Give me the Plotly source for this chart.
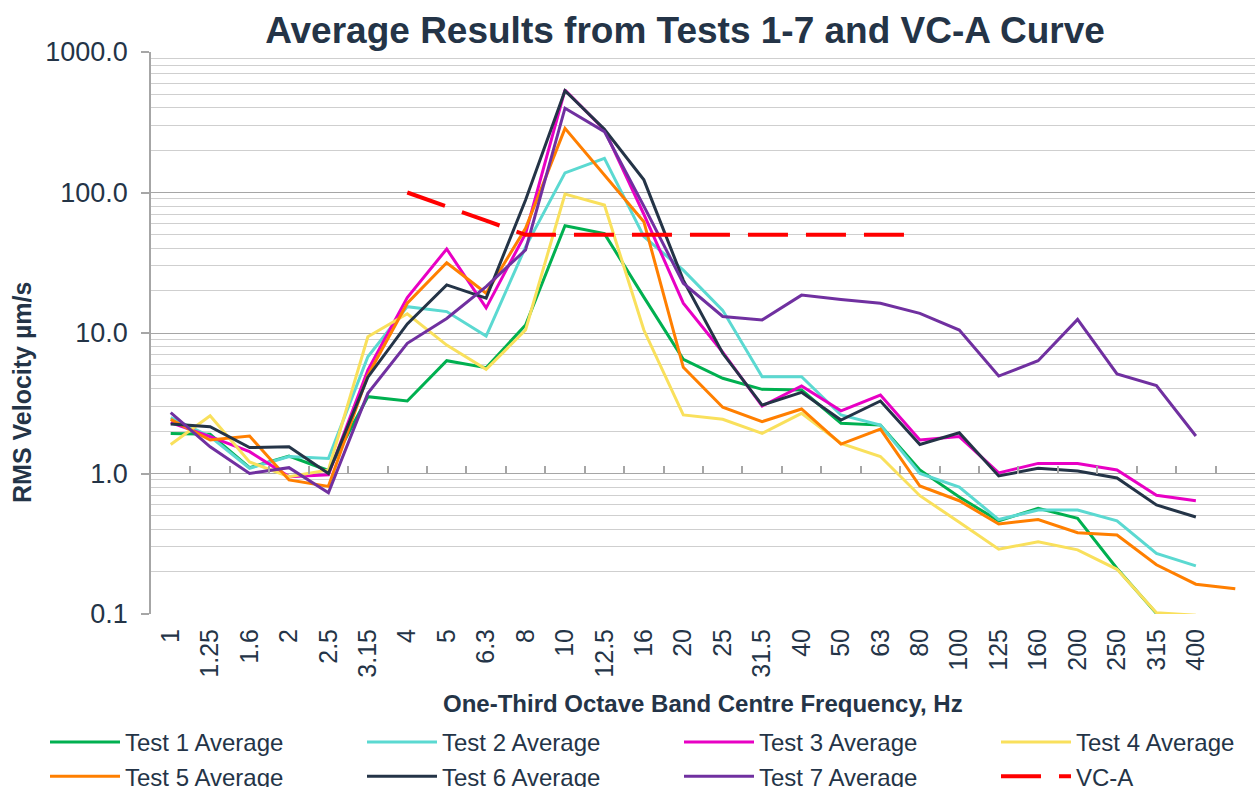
import plotly.graph_objects as go

# One-third octave band centre frequencies (last band unlabelled in the source)
FREQ_LABELS = ["1", "1.25", "1.6", "2", "2.5", "3.15", "4", "5", "6.3", "8", "10",
               "12.5", "16", "20", "25", "31.5", "40", "50", "63", "80", "100",
               "125", "160", "200", "250", "315", "400", ""]

TEST1 = [1.93, 1.9, 1.1, 1.33, 1.05, 3.52, 3.28, 6.35, 5.66, 11.4, 58, 51, 18.0,
         6.5, 4.76, 3.97, 3.93, 2.28, 2.21, 1.06, 0.68, 0.46, 0.565, 0.48, 0.211,
         0.101, 0.095, None]
TEST2 = [2.5, 1.83, 1.09, 1.32, 1.28, 6.78, 15.4, 14.2, 9.5, 41, 138, 175, 48.5,
         28, 14.5, 4.89, 4.89, 2.61, 2.21, 1.0, 0.80, 0.47, 0.55, 0.55, 0.46,
         0.27, 0.22, None]
TEST3 = [2.3, 1.83, 1.43, 0.95, 0.98, 5.45, 17.9, 39.6, 15.1, 51, 537, 279, 70,
         16.3, 7.3, 3.02, 4.2, 2.79, 3.62, 1.73, 1.83, 1.01, 1.18, 1.18, 1.06,
         0.70, 0.64, None]
TEST4 = [1.61, 2.58, 1.21, 0.95, 1.06, 9.4, 13.7, 8.2, 5.52, 10.5, 97.6, 81.5, 10.5,
         2.61, 2.43, 1.93, 2.68, 1.64, 1.32, 0.695, 0.45, 0.289, 0.327, 0.286, 0.208,
         0.102, 0.098, None]
TEST5 = [2.43, 1.73, 1.85, 0.90, 0.81, 5.0, 16.3, 31.6, 19.2, 55.6, 286, 133, 62,
         5.7, 2.96, 2.34, 2.88, 1.62, 2.07, 0.815, 0.64, 0.437, 0.47, 0.379, 0.365,
         0.224, 0.163, 0.151]
TEST6 = [2.25, 2.15, 1.53, 1.55, 1.0, 4.85, 11.6, 22, 17.7, 88.5, 531, 282, 123,
         23.8, 7.17, 3.07, 3.78, 2.40, 3.28, 1.61, 1.95, 0.96, 1.09, 1.04, 0.93,
         0.597, 0.49, None]
TEST7 = [2.71, 1.55, 1.0, 1.1, 0.73, 3.72, 8.45, 12.7, 21.4, 39, 398, 271, 80,
         22.6, 13.1, 12.4, 18.6, 17.3, 16.3, 13.8, 10.5, 4.94, 6.35, 12.5, 5.11,
         4.22, 1.85, None]
VCA = [None, None, None, None, None, None, 100, 80, 63, 50, 50, 50, 50,
       50, 50, 50, 50, 50, 50, 50, None, None, None, None, None,
       None, None, None]

# (name, values, colour, legend group, rank within that legend)
SERIES = [
    ("Test 1 Average", TEST1, "#00B050", "legend", 1),
    ("Test 2 Average", TEST2, "#5BD9D1", "legend", 2),
    ("Test 3 Average", TEST3, "#E800C4", "legend", 3),
    ("Test 4 Average", TEST4, "#F9E05C", "legend2", 1),
    ("Test 5 Average", TEST5, "#FF7F00", "legend", 4),
    ("Test 6 Average", TEST6, "#243447", "legend", 5),
    ("Test 7 Average", TEST7, "#7030A0", "legend", 6),
]

TEXT = "#243447"
FONT = "Liberation Sans, Arial, sans-serif"
xs = list(range(len(FREQ_LABELS)))

fig = go.Figure()
for name, vals, col, lg, rank in SERIES:
    fig.add_trace(go.Scatter(x=xs, y=vals, name=name, mode="lines",
                             line=dict(color=col, width=3), connectgaps=False,
                             legend=lg, legendrank=rank))
fig.add_trace(go.Scatter(x=xs, y=VCA, name="VC-A", mode="lines",
                         line=dict(color="#FF0000", width=4, dash="40px,18px"),
                         legend="legend2", legendrank=2))
# carrier for the category tick marks drawn on the 1.0 line
fig.add_trace(go.Scatter(x=[], y=[], xaxis="x2", showlegend=False, hoverinfo="skip"))

minor_vals = [m * 10 ** e for e in range(-1, 3) for m in range(2, 10)]

legend_common = dict(xref="container", yref="container", xanchor="left",
                     y=1 - 720 / 787, yanchor="top",
                     font=dict(size=24, color=TEXT, family=FONT),
                     itemwidth=70, bgcolor="rgba(0,0,0,0)", traceorder="normal")

fig.update_layout(
    width=1255, height=787,
    margin=dict(l=151, r=0, t=52, b=173, autoexpand=False),
    paper_bgcolor="white", plot_bgcolor="white",
    font=dict(family=FONT, color=TEXT, size=24),
    title=dict(text="<b>Average Results from Tests 1-7 and VC-A Curve</b>",
               font=dict(size=37, color=TEXT, family=FONT),
               xref="container", x=685 / 1255, xanchor="center",
               yref="container", y=1 - 30 / 787, yanchor="middle"),
    xaxis=dict(range=[-0.5, len(FREQ_LABELS) - 0.5], tickmode="array",
               tickvals=xs, ticktext=FREQ_LABELS, tickangle=-90,
               tickfont=dict(size=25, color=TEXT), ticks="", showgrid=False,
               zeroline=False, showline=False, ticklabelstandoff=9,
               automargin=False),
    xaxis2=dict(range=[-0.5, len(FREQ_LABELS) - 0.5], overlaying="x",
                anchor="free", position=0.25, tickmode="array",
                tickvals=[i - 0.5 for i in range(len(FREQ_LABELS) + 1)],
                ticks="inside", ticklen=8, tickwidth=1.5, tickcolor="#A6A6A6",
                showticklabels=False, showgrid=False, zeroline=False, showline=False,
                automargin=False),
    yaxis=dict(type="log", range=[-1, 3], tickmode="array",
               tickvals=[0.1, 1, 10, 100, 1000],
               ticktext=["0.1", "1.0", "10.0", "100.0", "1000.0"],
               tickfont=dict(size=27, color=TEXT),
               ticks="outside", ticklen=8, tickwidth=1.5, tickcolor="#A6A6A6",
               showline=True, linecolor="#A6A6A6", linewidth=1.5,
               showgrid=True, gridcolor="#A6A6A6", gridwidth=1.3,
               zeroline=False, ticklabelstandoff=8, automargin=False,
               minor=dict(tickmode="array", tickvals=minor_vals, showgrid=True,
                          gridcolor="#CFCFCF", gridwidth=1, ticks="")),
    legend=dict(orientation="h", x=45 / 1255, entrywidth=232,
                entrywidthmode="pixels", **legend_common),
    legend2=dict(orientation="v", x=(45 + 3 * 317) / 1255, **legend_common),
    annotations=[
        dict(text="<b>RMS Velocity µm/s</b>", textangle=-90, showarrow=False,
             xref="paper", yref="paper", x=(22 - 151) / 1104, y=(614 - 393) / 562,
             xanchor="center", yanchor="middle", font=dict(size=25, color=TEXT)),
        dict(text="<b>One-Third Octave Band Centre Frequency, Hz</b>", showarrow=False,
             xref="paper", yref="paper", x=0.5, y=(614 - 703) / 562,
             xanchor="center", yanchor="middle", font=dict(size=24, color=TEXT)),
    ],
)

fig.write_html("out.html", config={"displayModeBar": False},
               post_script="document.body.style.margin='0px';")
